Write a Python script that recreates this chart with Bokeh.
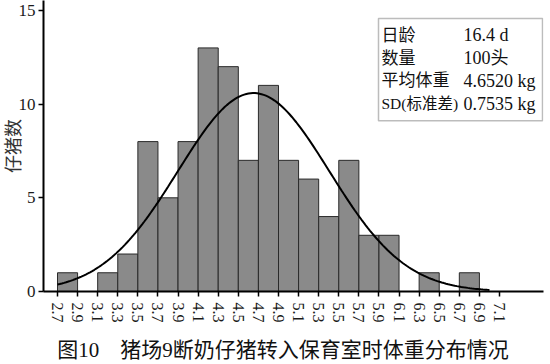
import math
import numpy as np
from bokeh.plotting import figure
from bokeh.models import FixedTicker, PrintfTickFormatter, Label, BoxAnnotation, Range1d
from bokeh.embed import file_html
from bokeh.resources import INLINE

# ---- data ----
bin_edges = [2.7, 2.9, 3.1, 3.3, 3.5, 3.7, 3.9, 4.1, 4.3, 4.5, 4.7, 4.9,
             5.1, 5.3, 5.5, 5.7, 5.9, 6.1, 6.3, 6.5, 6.7, 6.9, 7.1]
counts = [1, 0, 1, 2, 8, 5, 8, 13, 12, 7, 11, 7, 6, 4, 7, 3, 3, 0, 1, 0, 1, 0]
y_ticks = [0, 5, 10, 15]
age_days = "16.4"
n_pigs = 100
mean_wt = 4.6520
sd_wt = 0.7535
bin_width = 0.2
curve_range = [2.7, 7.0]

stat_labels = ["日龄", "数量", "平均体重", "SD(标准差)"]
stat_values = [f"{age_days}  d", f"{n_pigs}头", f"{mean_wt:.4f}  kg", f"{sd_wt:.4f}  kg"]
title_text = "图10　猪场9断奶仔猪转入保育室时体重分布情况"
ylabel_text = "仔猪数"

# ---- layout (pixels within the figure) ----
W, H = 550, 364
FL, FR, FT, FB = 43, 543, 0, 293
ppx = (499 - 57) / (bin_edges[-1] - bin_edges[0])
x_start = bin_edges[0] - (57 - FL) / ppx
x_end = x_start + (FR - FL) / ppx
ppy = (FB - 10) / 15.0
y_end = (FB - FT) / ppy

def dx(fx):
    return x_start + (fx - FL) / ppx

def dy(fy):
    return (FB - fy) / ppy

SERIF_CJK = "'Liberation Serif', 'Noto Sans CJK SC'"

p = figure(width=W, height=H, output_backend="svg", toolbar_location=None,
           x_range=Range1d(x_start, x_end), y_range=Range1d(0, y_end),
           min_border_left=FL, min_border_right=W - FR, min_border_top=FT,
           min_border_bottom=H - FB)
p.outline_line_color = None
p.xgrid.visible = False
p.ygrid.visible = False
p.background_fill_color = "white"

# bars
p.quad(left=bin_edges[:-1], right=bin_edges[1:], bottom=0, top=counts,
       fill_color="#8a8a8a", line_color="#2a2a2a", line_width=1)

# normal fit curve from the stated mean / SD
xs = np.linspace(curve_range[0], curve_range[1], 200)
ys = n_pigs * bin_width / (sd_wt * math.sqrt(2 * math.pi)) * np.exp(-0.5 * ((xs - mean_wt) / sd_wt) ** 2)
p.line(xs, ys, line_color="black", line_width=2)

# axes
for ax in (p.xaxis[0], p.yaxis[0]):
    ax.axis_line_width = 2
    ax.axis_line_color = "black"
    ax.major_tick_line_color = "black"
    ax.major_tick_line_width = 1.5
    ax.minor_tick_line_color = None
    ax.major_tick_in = 0
    ax.major_label_text_font = SERIF_CJK
    ax.major_label_text_color = "#1a1a1a"

p.xaxis.ticker = FixedTicker(ticks=bin_edges)
p.xaxis.formatter = PrintfTickFormatter(format="%.1f")
p.xaxis.major_label_orientation = -math.pi / 2
p.xaxis.major_tick_out = 5
p.xaxis.major_label_standoff = 6
p.xaxis.major_label_text_font_size = "16px"
p.xaxis.axis_label = title_text + "\u3000"
p.xaxis.axis_label_text_font = SERIF_CJK
p.xaxis.axis_label_text_font_size = "21px"
p.xaxis.axis_label_text_font_style = "normal"
p.xaxis.axis_label_text_color = "#111111"
p.xaxis.axis_label_standoff = 12

p.yaxis.ticker = FixedTicker(ticks=y_ticks)
p.yaxis.major_tick_out = 5
p.yaxis.major_label_standoff = 3
p.yaxis.major_label_text_font_size = "17px"
p.yaxis.axis_label = ylabel_text
p.yaxis.axis_label_text_font = SERIF_CJK
p.yaxis.axis_label_text_font_size = "18px"
p.yaxis.axis_label_text_font_style = "normal"
p.yaxis.axis_label_text_color = "#333333"
p.yaxis.axis_label_standoff = -8

# stats box
p.add_layout(BoxAnnotation(left=dx(378), right=dx(542), top=dy(18), bottom=dy(121),
                           fill_alpha=0, line_color="#222222", line_width=1.5))
rows_y = [35, 58, 81, 104]
label_sizes = ["17px", "17px", "17px", "15.5px"]
for lab, val, ry, fs in zip(stat_labels, stat_values, rows_y, label_sizes):
    p.add_layout(Label(x=dx(381), y=dy(ry), text=lab, text_font=SERIF_CJK,
                       text_font_size=fs, text_baseline="middle", text_color="#111111"))
    p.add_layout(Label(x=dx(463), y=dy(ry), text=val, text_font=SERIF_CJK,
                       text_font_size="18px", text_baseline="middle", text_color="#111111"))

open("out.html", "w").write(file_html(p, INLINE))
